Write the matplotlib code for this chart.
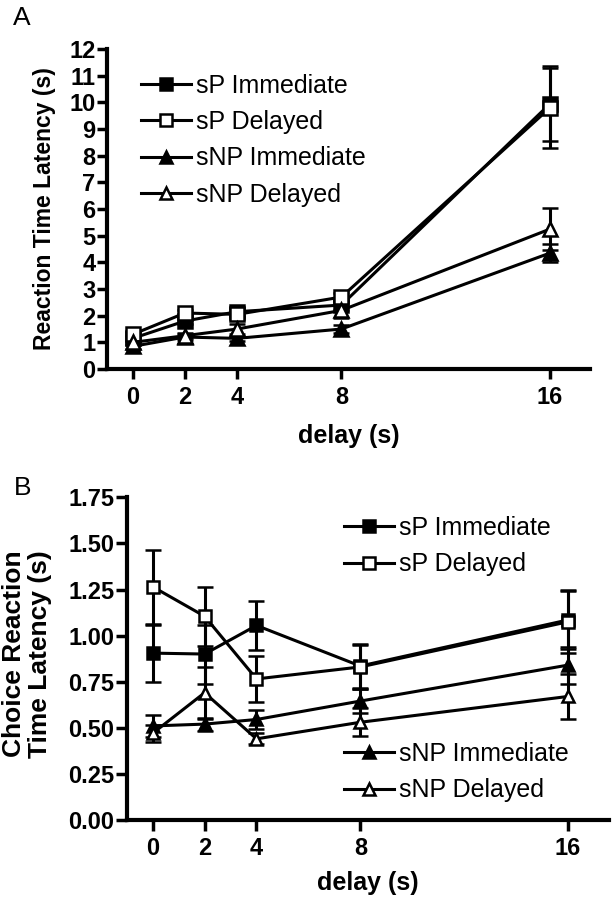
import matplotlib
matplotlib.use("Agg")
import matplotlib.pyplot as plt
from matplotlib.lines import Line2D

plt.rcParams['font.family'] = ['Liberation Sans', 'DejaVu Sans']

delay = [0, 2, 4, 8, 16]
labels = ['sP Immediate', 'sP Delayed', 'sNP Immediate', 'sNP Delayed']

# panel A: reaction time latency (s)
sp_imm_a = [1.15, 1.8, 2.15, 2.4, 9.95]
sp_imm_a_err = [0.12, 0.1, 0.15, 0.2, 1.4]
sp_del_a = [1.3, 2.1, 2.05, 2.7, 9.8]
sp_del_a_err = [0.1, 0.1, 0.1, 0.15, 1.5]
snp_imm_a = [0.85, 1.2, 1.15, 1.5, 4.35]
snp_imm_a_err = [0.1, 0.1, 0.1, 0.15, 0.35]
snp_del_a = [1.0, 1.25, 1.5, 2.2, 5.25]
snp_del_a_err = [0.1, 0.1, 0.2, 0.3, 0.8]

# panel B: choice reaction time latency (s)
sp_imm_b = [0.905, 0.90, 1.055, 0.835, 1.085]
sp_imm_b_err = [0.155, 0.16, 0.135, 0.12, 0.155]
sp_del_b = [1.265, 1.105, 0.765, 0.83, 1.075]
sp_del_b_err = [0.2, 0.16, 0.125, 0.12, 0.17]
snp_imm_b = [0.51, 0.52, 0.545, 0.645, 0.84]
snp_imm_b_err = [0.06, 0.035, 0.05, 0.065, 0.1]
snp_del_b = [0.47, 0.69, 0.44, 0.53, 0.67]
snp_del_b_err = [0.045, 0.14, 0.03, 0.075, 0.12]

styles = [('s', 'black'), ('s', 'white'), ('^', 'black'), ('^', 'white')]

fig = plt.figure(figsize=(6.13, 8.99), dpi=100)
axA = fig.add_axes([0.174, 0.5895, 0.7885, 0.356])
axB = fig.add_axes([0.2067, 0.0879, 0.7868, 0.3589])

TICK_SIZE = 17
LEG_SIZE = 18


def draw(ax, series, errs, ms):
    handles = []
    for y, e, (m, fc), lab in zip(series, errs, styles, labels):
        ax.errorbar(delay, y, yerr=e, color='black', lw=2.2, marker=m,
                    mfc=fc, mec='black', mew=1.8, ms=ms, capsize=5.5,
                    capthick=2.2, elinewidth=2.2)
        handles.append(Line2D([], [], color='black', lw=2.2, marker=m, mfc=fc,
                              mec='black', mew=1.8, ms=ms - 1, label=lab))
    for s in ['top', 'right']:
        ax.spines[s].set_visible(False)
    for s in ['left', 'bottom']:
        ax.spines[s].set_linewidth(3)
    ax.set_xticks(delay)
    for t in ax.get_xticklabels():
        t.set_fontsize(TICK_SIZE)
        t.set_fontweight('bold')
    return handles


def add_legend(ax, handles, anchor):
    return ax.legend(handles=handles, loc='upper left', bbox_to_anchor=anchor,
                     bbox_transform=fig.transFigure, frameon=False,
                     fontsize=LEG_SIZE, handlelength=2.0, handletextpad=0.2,
                     labelspacing=0.49, borderpad=0, borderaxespad=0)


# ---- panel A
hA = draw(axA, [sp_imm_a, sp_del_a, snp_imm_a, snp_del_a],
          [sp_imm_a_err, sp_del_a_err, snp_imm_a_err, snp_del_a_err], 10)
axA.set_xlim(-1.0, 17.53)
axA.set_ylim(0, 12)
axA.set_yticks(range(0, 13))
for t in axA.get_yticklabels():
    t.set_fontsize(TICK_SIZE)
    t.set_fontweight('bold')
axA.tick_params(axis='y', length=7, width=2.5, pad=1)
axA.tick_params(axis='x', length=7, width=2.5, pad=5)
axA.set_ylabel('Reaction Time Latency (s)', fontsize=16.5, fontweight='bold', va='center')
axA.yaxis.set_label_coords(-0.128, 0.5)
axA.set_xlabel('delay (s)', fontsize=18, fontweight='bold', va='center')
axA.xaxis.set_label_coords(0.5, -0.209)
add_legend(axA, hA, (0.230, 0.9177))

# ---- panel B
hB = draw(axB, [sp_imm_b, sp_del_b, snp_imm_b, snp_del_b],
          [sp_imm_b_err, sp_del_b_err, snp_imm_b_err, snp_del_b_err], 9)
axB.set_xlim(-1.0, 17.58)
axB.set_ylim(0, 1.75)
axB.set_yticks([0, 0.25, 0.5, 0.75, 1.0, 1.25, 1.5, 1.75])
axB.set_yticklabels(['0.00', '0.25', '0.50', '0.75', '1.00', '1.25', '1.50', '1.75'],
                    fontsize=TICK_SIZE, fontweight='bold')
axB.tick_params(axis='y', length=8, width=2.5, pad=1)
axB.tick_params(axis='x', length=8, width=2.5, pad=4)
axB.set_ylabel('Choice Reaction\nTime Latency (s)', fontsize=19, fontweight='bold',
               va='center', linespacing=1.1)
axB.yaxis.set_label_coords(-0.207, 0.514)
axB.set_xlabel('delay (s)', fontsize=18, fontweight='bold', va='center')
axB.xaxis.set_label_coords(0.5, -0.195)
legB1 = add_legend(axB, hB[:2], (0.561, 0.426))
axB.add_artist(legB1)
add_legend(axB, hB[2:], (0.561, 0.1746))

fig.text(0.021, 1 - 25 / 899, 'A', fontsize=19, va='baseline', ha='left')
fig.text(0.023, 1 - 495 / 899, 'B', fontsize=19, va='baseline', ha='left')

fig.savefig('out.png', dpi=100)
